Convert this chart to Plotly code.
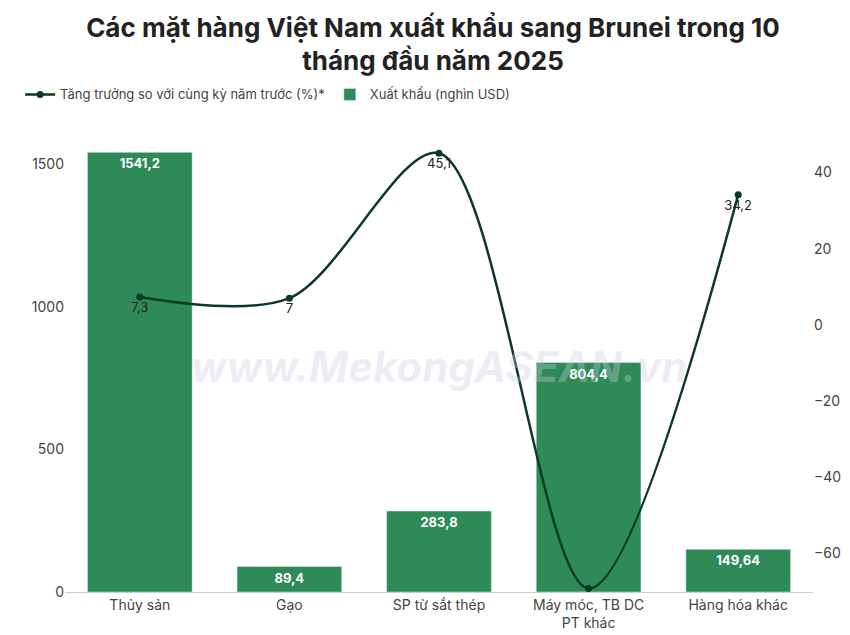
import plotly.graph_objects as go

categories = ["Thủy sản", "Gạo", "SP từ sắt thép", "Máy móc, TB DC<br>PT khác", "Hàng hóa khác"]
export_vals = [1541.2, 89.4, 283.8, 804.4, 149.64]
export_labels = ["1541,2", "89,4", "283,8", "804,4", "149,64"]
growth_vals = [7.3, 7, 45.1, -69.3, 34.2]
growth_labels = ["7,3", "7", "45,1", "-69,3", "34,2"]

fig = go.Figure()
fig.add_trace(go.Bar(
    x=categories, y=export_vals, name="Xuất khẩu (nghìn USD)",
    marker_color="#2e8b57", text=export_labels, textposition="inside",
    insidetextanchor="end", textangle=0,
    textfont=dict(size=13, color="white", family="Inter", weight="bold"),
))
fig.add_trace(go.Scatter(
    x=categories, y=growth_vals, yaxis="y2", mode="lines+markers+text",
    name="Tăng trưởng so với cùng kỳ năm trước (%)*",
    line=dict(color="#0b3a22", width=2.5, shape="spline", smoothing=0.9),
    marker=dict(size=7, color="#0b3a22"),
    text=growth_labels, textposition="bottom center",
    textfont=dict(size=13, color="#222", family="Inter"),
))
fig.add_annotation(text="<b><i>www.MekongASEAN.vn</i></b>", x=0.5, y=0.5, xref="paper", yref="paper",
                   showarrow=False, font=dict(size=42, color="rgba(200,205,225,0.35)", family="Inter"))
fig.update_layout(
    width=850, height=635, plot_bgcolor="white", paper_bgcolor="white",
    font=dict(family="Inter", color="#444", size=14),
    title=dict(text="<b>Các mặt hàng Việt Nam xuất khẩu sang Brunei trong 10<br>tháng đầu năm 2025</b>",
               x=0.5, y=0.955, xanchor="center", font=dict(size=26, color="#222")),
    margin=dict(l=55, r=45, t=133, b=46),
    bargap=0.3,
    legend=dict(orientation="h", x=-0.06, y=1.07, xanchor="left", yanchor="bottom",
                font=dict(size=13), traceorder="reversed", itemwidth=30),
    xaxis=dict(showgrid=False, showline=True, linecolor="#ccc", tickfont=dict(size=14)),
    yaxis=dict(range=[0, 1581], tickvals=[0, 500, 1000, 1500], showgrid=False, showline=False,
               tickfont=dict(size=14)),
    yaxis2=dict(overlaying="y", side="right", range=[-70.2, 48.3],
                tickvals=[-60, -40, -20, 0, 20, 40], showgrid=False, tickfont=dict(size=14)),
)
fig.write_html("out.html")
